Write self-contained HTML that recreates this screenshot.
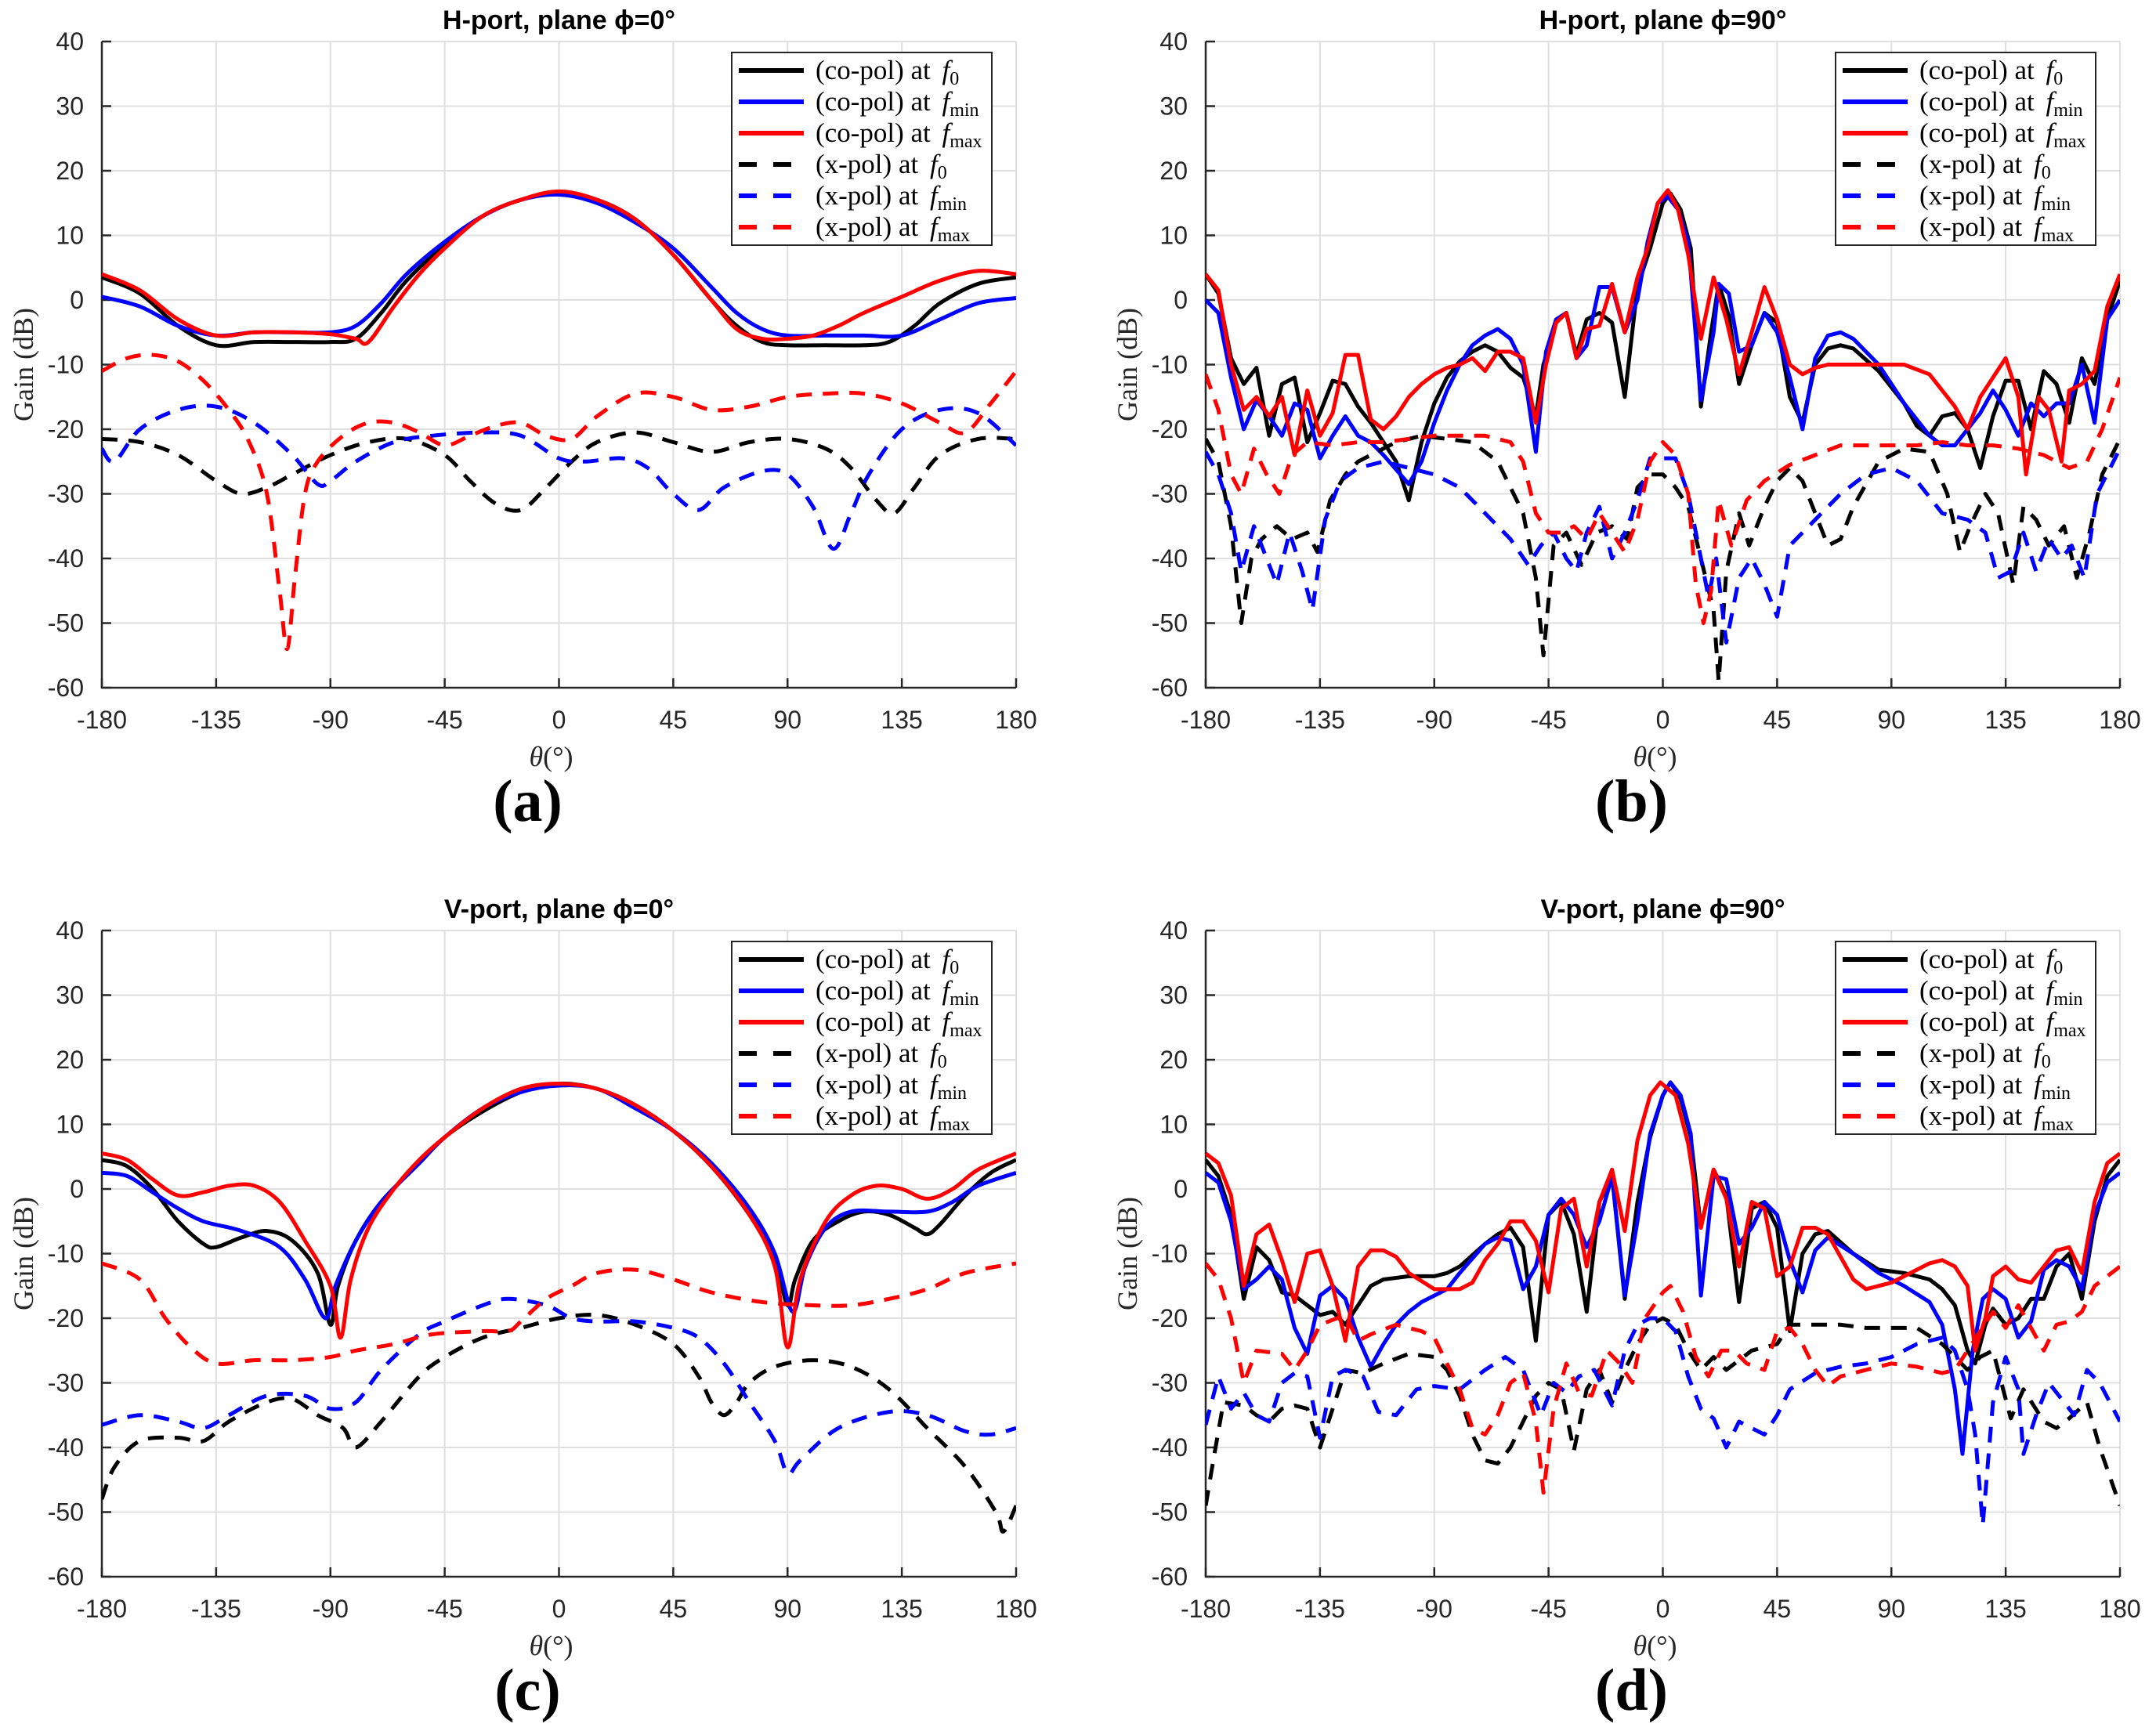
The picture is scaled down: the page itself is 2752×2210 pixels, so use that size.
<!DOCTYPE html>
<html><head><meta charset="utf-8">
<style>
html,body{margin:0;padding:0;background:#fff;}
svg{display:block;}
</style></head>
<body>
<svg id="fig" width="2752" height="2210" viewBox="0 0 2752 2210" xmlns="http://www.w3.org/2000/svg"></svg>
<script>
// ---------- data (theta in degrees, gain in dB) ----------
const xTicks = [-180,-135,-90,-45,0,45,90,135,180];
const yTicks = [40,30,20,10,0,-10,-20,-30,-40,-50,-60];
const titles = ["H-port, plane \u03d5=0\u00b0","H-port, plane \u03d5=90\u00b0","V-port, plane \u03d5=0\u00b0","V-port, plane \u03d5=90\u00b0"];
const panelLetters = ["(a)","(b)","(c)","(d)"];

// Panel a
const aCoF0 = [[-180,3.5],[-165,1],[-150,-4],[-135,-7],[-120,-6.5],[-105,-6.5],[-90,-6.5],[-80,-6],[-70,-2],[-60,3],[-45,8.5],[-30,13],[-15,15.5],[0,16.5],[15,15.5],[30,12.5],[45,7],[60,0],[70,-4],[80,-6.5],[90,-7],[105,-7],[120,-7],[130,-6.5],[140,-4],[150,-0.5],[165,2.5],[180,3.5]];
const aCoFmin = [[-180,0.5],[-165,-1],[-150,-4],[-135,-5.5],[-120,-5],[-105,-5],[-90,-5],[-80,-4],[-70,-0.5],[-60,4],[-45,9],[-30,13],[-15,15.5],[0,16.3],[15,15],[30,12],[45,8],[60,2],[70,-2],[80,-4.5],[90,-5.5],[105,-5.5],[120,-5.5],[135,-5.5],[150,-3],[165,-0.5],[180,0.3]];
const aCoFmax = [[-180,4],[-165,1.5],[-150,-3],[-135,-5.5],[-120,-5],[-105,-5],[-90,-5.3],[-80,-6],[-75,-6.5],[-65,-1],[-55,4],[-45,8],[-30,13],[-15,15.5],[0,16.8],[15,15.5],[30,12.5],[45,7],[60,0],[70,-4.5],[80,-6],[90,-6],[100,-5.5],[110,-4],[120,-2],[135,0.5],[150,3],[165,4.5],[180,4]];
const aXF0 = [[-180,-21.5],[-165,-22],[-150,-24],[-135,-28],[-125,-30],[-115,-29],[-105,-27],[-90,-24],[-75,-22],[-60,-21.5],[-45,-24],[-35,-28],[-25,-31.5],[-15,-32.5],[-5,-29],[5,-25],[15,-22],[30,-20.5],[45,-22],[60,-23.5],[75,-22],[90,-21.5],[105,-23],[115,-26],[125,-31],[132,-33],[140,-29],[150,-24],[165,-21.5],[180,-21.5]];
const aXFmin = [[-180,-23],[-175,-25],[-165,-20],[-150,-17],[-135,-16.5],[-120,-19],[-105,-24],[-95,-28.5],[-90,-28],[-80,-25],[-65,-22],[-50,-21],[-30,-20.5],[-15,-21],[0,-24.5],[10,-25],[25,-24.5],[35,-26],[45,-30],[55,-32.5],[65,-29],[80,-26.5],[90,-27],[100,-32],[108,-38.5],[115,-33],[122,-27],[135,-20],[150,-17],[165,-17.5],[180,-22.5]];
const aXFmax = [[-180,-11],[-170,-9],[-160,-8.5],[-150,-9.5],[-140,-12.5],[-130,-17],[-122,-22],[-115,-30],[-110,-45],[-107,-54],[-104,-43],[-100,-30],[-95,-25],[-85,-21],[-75,-19],[-65,-19],[-55,-20.5],[-45,-22.5],[-35,-21],[-25,-19.5],[-15,-19],[-5,-21],[5,-21.5],[15,-18],[30,-14.5],[45,-15],[60,-17],[75,-16.5],[90,-15],[105,-14.5],[120,-14.5],[135,-16],[150,-19],[160,-20.5],[170,-16],[180,-11]];

// Panel b
const bCoF0 = [[-180,4],[-175,1],[-170,-9],[-165,-13],[-160,-10.5],[-155,-21],[-150,-13],[-145,-12],[-140,-22],[-135,-17.5],[-130,-12.5],[-125,-13],[-120,-16.5],[-115,-19],[-110,-22],[-105,-25],[-100,-31],[-95,-22],[-90,-16],[-85,-12],[-80,-9.5],[-75,-8],[-70,-7],[-65,-8],[-60,-10.5],[-55,-12],[-50,-18],[-47,-10],[-42,-3.5],[-38,-2],[-34,-8.5],[-30,-3],[-25,-2],[-20,-3.5],[-15,-15],[-10,2],[-5,8],[0,15],[3,16.5],[7,14],[11,8],[15,-16.5],[19,-5],[22,2.5],[26,-2.5],[30,-13],[35,-7],[40,-2],[45,-3.5],[50,-15],[55,-19],[60,-10],[65,-7.5],[70,-7],[75,-7.5],[85,-11],[95,-16],[100,-19.5],[105,-21],[110,-18],[115,-17.5],[120,-20],[125,-26],[130,-18],[135,-12.5],[140,-12.5],[145,-20],[150,-11],[155,-13],[160,-19],[165,-9],[170,-13],[175,-3],[180,3]];
const bCoFmin = [[-180,0],[-175,-2],[-170,-12],[-165,-20],[-160,-15.5],[-155,-18],[-150,-21],[-145,-16],[-140,-17],[-135,-24.5],[-130,-21],[-125,-18],[-120,-21],[-115,-22],[-110,-24],[-100,-28.5],[-95,-25],[-90,-19],[-85,-14],[-80,-10],[-75,-7],[-70,-5.5],[-65,-4.5],[-60,-6],[-55,-10],[-50,-23.5],[-46,-8],[-42,-3],[-38,-2],[-34,-9],[-30,-7],[-25,2],[-20,2],[-15,-5],[-10,0],[-6,9],[-2,15],[2,16],[6,14],[10,9],[15,-15.5],[20,-5],[22,2.5],[26,1],[30,-8],[35,-7],[40,-2],[45,-5],[50,-12],[55,-20],[60,-9],[65,-5.5],[70,-5],[75,-6],[85,-10],[95,-16],[105,-21],[110,-22.5],[115,-22.5],[120,-20],[125,-17.5],[130,-14],[135,-17],[140,-21],[145,-16],[150,-18],[155,-16],[160,-16],[165,-10],[170,-19],[175,-3],[180,0]];
const bCoFmax = [[-180,4],[-175,1.5],[-170,-10],[-165,-17],[-160,-15],[-155,-18],[-150,-15],[-145,-24],[-140,-14],[-135,-21],[-130,-17.5],[-125,-8.5],[-120,-8.5],[-115,-18.5],[-110,-20],[-105,-18],[-100,-15],[-95,-13],[-90,-11.5],[-85,-10.5],[-80,-10],[-75,-9],[-70,-11],[-65,-8],[-60,-8],[-55,-9],[-50,-19],[-46,-10],[-42,-3.5],[-38,-2],[-34,-9],[-30,-4.5],[-25,-4],[-20,2.5],[-15,-5],[-10,3.5],[-6,8],[-2,15],[2,17],[6,14],[10,7],[15,-6],[20,3.5],[25,-3],[30,-11.5],[35,-5],[40,2],[45,-3],[50,-10],[55,-11.5],[60,-10.5],[65,-10],[75,-10],[85,-10],[95,-10],[105,-11.5],[115,-16.5],[120,-20],[125,-15],[130,-12],[135,-9],[140,-15],[143,-27],[148,-15],[152,-17],[157,-25],[160,-14],[165,-13],[170,-11],[175,-1],[180,4]];
const bXF0 = [[-180,-21.5],[-175,-25],[-170,-35],[-166,-50],[-162,-40],[-158,-37],[-152,-35],[-146,-37],[-140,-36],[-136,-39],[-131,-31],[-125,-27],[-120,-25],[-115,-24],[-105,-22],[-95,-21],[-85,-21.5],[-75,-22],[-65,-25],[-55,-33],[-50,-43],[-47,-55],[-43,-38],[-38,-36],[-32,-41],[-26,-36],[-20,-35],[-14,-37],[-10,-29],[-5,-27],[0,-27],[5,-29],[10,-32],[15,-40],[20,-48],[22,-59],[25,-42],[30,-33],[34,-38],[40,-32],[45,-28],[50,-26],[55,-28],[60,-33],[65,-38],[70,-37],[75,-32],[85,-25],[95,-23],[105,-23.5],[112,-30],[117,-39],[121,-35],[127,-30],[132,-33],[138,-44],[142,-32],[147,-34],[152,-38],[158,-35],[163,-43],[168,-36],[173,-27],[180,-21.5]];
const bXFmin = [[-180,-23.5],[-175,-27],[-170,-33],[-166,-42],[-161,-35],[-156,-40],[-152,-44],[-147,-36],[-142,-42],[-138,-48],[-133,-34],[-127,-28],[-120,-26],[-110,-25],[-100,-26],[-90,-27],[-80,-29],[-70,-33],[-60,-37],[-53,-41],[-48,-38],[-43,-36],[-38,-40],[-34,-42],[-30,-36],[-25,-32],[-20,-40],[-15,-36],[-10,-31],[-5,-24.5],[0,-24.5],[5,-24.5],[10,-30],[14,-38],[18,-46],[21,-40],[25,-53],[30,-43],[35,-40],[40,-44],[45,-49],[50,-38],[60,-34],[70,-30],[80,-27],[90,-26],[100,-28],[110,-33],[120,-34],[127,-36],[132,-43],[137,-42],[142,-36],[147,-42],[152,-37],[157,-40],[161,-38],[166,-43],[171,-30],[180,-23]];
const bXFmax = [[-180,-11.5],[-175,-17],[-170,-27],[-166,-30],[-161,-23],[-156,-27],[-151,-30],[-146,-24],[-140,-22],[-130,-22.5],[-120,-22],[-110,-22],[-100,-21.5],[-90,-21],[-80,-21],[-70,-21],[-60,-22],[-55,-25],[-50,-33],[-45,-36],[-40,-36],[-35,-35],[-30,-37],[-25,-33],[-20,-36],[-15,-39],[-10,-34],[-5,-25],[0,-22],[5,-24],[10,-30],[13,-44],[16,-50],[19,-45],[22,-31],[27,-38],[33,-31],[40,-28],[50,-25.5],[60,-24],[70,-22.5],[80,-22.5],[90,-22.5],[100,-22.5],[110,-22],[120,-22.5],[130,-22.5],[140,-23],[150,-24],[160,-26],[167,-25],[173,-20],[180,-12]];

// Panel c
const cCoF0 = [[-180,4.5],[-170,3.5],[-160,0],[-150,-5],[-140,-8.5],[-135,-9],[-125,-7.5],[-115,-6.5],[-105,-8],[-95,-13],[-90,-21],[-87,-15],[-80,-8],[-70,-2],[-55,4],[-45,8],[-30,12],[-15,15],[0,16.3],[15,15.5],[30,13],[45,9],[60,3.5],[75,-4],[85,-11],[90,-18],[93,-14],[100,-8],[110,-5],[120,-3.5],[130,-4],[140,-6],[145,-7],[150,-5.5],[160,-1],[170,2.5],[180,4.5]];
const cCoFmin = [[-180,2.5],[-170,2],[-160,-0.5],[-150,-3],[-140,-5],[-125,-6.5],[-110,-9],[-100,-14],[-92,-20],[-88,-15],[-80,-8],[-70,-2],[-55,4],[-45,8],[-30,12.5],[-15,15],[0,16],[15,15.5],[30,12.5],[45,9],[60,4],[75,-3],[85,-10],[92,-19],[97,-12],[105,-6],[115,-3.5],[130,-3.5],[145,-3.5],[155,-2],[165,0.5],[180,2.5]];
const cCoFmax = [[-180,5.5],[-170,4.5],[-160,1.5],[-150,-1],[-140,-0.5],[-130,0.5],[-120,0.5],[-110,-2],[-100,-8],[-90,-15],[-86,-23],[-82,-14],[-75,-6],[-65,0],[-55,4.5],[-45,8],[-30,12.5],[-15,15.5],[0,16.3],[15,15.5],[30,13],[45,9],[60,3.5],[75,-4],[85,-12],[90,-24.5],[95,-14],[105,-5],[115,-1],[125,0.5],[135,0],[145,-1.5],[155,0],[165,3],[180,5.5]];
const cXF0 = [[-180,-48],[-175,-43],[-165,-39],[-150,-38.5],[-140,-39],[-130,-36],[-115,-33],[-105,-32.5],[-95,-35],[-85,-37],[-80,-40],[-70,-36],[-55,-29],[-45,-26],[-30,-23],[-15,-21.5],[0,-20],[15,-19.5],[30,-21],[45,-24],[55,-29],[60,-33],[65,-35],[70,-33],[75,-30],[85,-27.5],[100,-26.5],[115,-27.5],[130,-31],[145,-37],[160,-43],[172,-50],[175,-53],[180,-49]];
const cXFmin = [[-180,-36.5],[-165,-35],[-150,-36],[-140,-37],[-130,-35],[-115,-32],[-100,-32],[-90,-34],[-80,-33],[-70,-28],[-55,-22.5],[-45,-20.5],[-30,-18],[-20,-17],[-5,-18],[5,-20],[15,-20.5],[30,-20.5],[45,-21.5],[55,-23],[65,-27],[75,-33],[85,-39],[90,-44],[95,-42],[110,-37],[130,-34.5],[145,-35],[160,-37.5],[170,-38],[180,-37]];
const cXFmax = [[-180,-11.5],[-165,-14],[-155,-20],[-145,-24.5],[-135,-27],[-120,-26.5],[-105,-26.5],[-90,-26],[-80,-25],[-65,-24],[-50,-22.5],[-30,-22],[-20,-22],[-15,-20.5],[-5,-17],[5,-15],[15,-13],[30,-12.5],[45,-14],[60,-16],[80,-17.5],[100,-18],[115,-18],[130,-17],[145,-15.5],[160,-13],[180,-11.5]];

// Panel d
const dCoF0 = [[-180,4.5],[-175,2],[-170,-4],[-165,-17],[-160,-9],[-155,-11],[-150,-16],[-145,-16.5],[-140,-18],[-135,-19.5],[-130,-19],[-125,-21],[-120,-18],[-115,-15],[-110,-14],[-100,-13.5],[-90,-13.5],[-85,-13],[-80,-12],[-70,-8.5],[-65,-7],[-60,-6],[-55,-9],[-50,-23.5],[-45,-4],[-40,-2],[-35,-7],[-30,-19],[-25,-2],[-20,2],[-15,-17],[-10,-2],[-5,8],[0,14.5],[3,16.5],[7,14],[11,8],[15,-6],[20,3],[25,-1],[30,-17.5],[35,-3],[40,-2],[45,-6],[50,-22],[55,-10],[60,-7],[65,-6.5],[75,-10],[85,-12.5],[95,-13],[105,-14],[110,-15.5],[115,-18],[120,-25],[123,-27],[127,-21],[130,-18.5],[135,-21],[140,-20],[145,-17],[150,-17],[155,-12],[160,-10],[165,-17],[170,-5],[175,2],[180,4.5]];
const dCoFmin = [[-180,2.5],[-175,1],[-170,-5],[-165,-15.5],[-160,-14],[-155,-12],[-150,-14],[-145,-21.5],[-140,-25.5],[-135,-16.5],[-130,-15],[-125,-17],[-120,-23],[-115,-27.5],[-110,-24],[-105,-21],[-100,-19],[-95,-17.5],[-85,-15.5],[-80,-13],[-70,-8.5],[-65,-7.5],[-60,-8],[-55,-15.5],[-50,-12],[-45,-4],[-40,-1.5],[-35,-4],[-30,-9],[-25,-5],[-20,2],[-15,-16.5],[-10,-5],[-5,8.5],[0,14.5],[3,16.5],[7,14.5],[11,8.5],[15,-16.5],[20,2],[25,1.5],[30,-8.5],[35,-6],[40,-2],[45,-4],[50,-11],[55,-16],[60,-9.5],[65,-7.5],[75,-10],[85,-13],[95,-15],[105,-17.5],[110,-21],[115,-31],[118,-41],[122,-25],[126,-17],[130,-15.5],[135,-17],[140,-23],[145,-20.5],[150,-12.5],[155,-11],[160,-12],[165,-15.5],[170,-4],[175,1],[180,2.5]];
const dCoFmax = [[-180,5.5],[-175,4],[-170,-1],[-165,-15],[-160,-7],[-155,-5.5],[-150,-11],[-145,-17.5],[-140,-10],[-135,-9.5],[-130,-15],[-125,-23.5],[-120,-12],[-115,-9.5],[-110,-9.5],[-105,-10.5],[-100,-13],[-90,-15.5],[-80,-15.5],[-75,-14.5],[-70,-11],[-65,-8.5],[-60,-5],[-55,-5],[-50,-8],[-45,-16],[-40,-3],[-35,-1.5],[-30,-12],[-25,-2],[-20,3],[-15,-6.5],[-10,7.5],[-5,14.5],[-1,16.5],[5,14.5],[10,7],[15,-6],[20,3],[25,-1.5],[30,-12],[35,-2],[40,-3],[45,-13.5],[50,-12],[55,-6],[60,-6],[65,-7],[75,-14],[80,-15.5],[90,-14.5],[100,-12.5],[105,-11.5],[110,-11],[115,-12],[120,-15],[123,-25],[127,-20],[130,-13.5],[135,-12],[140,-14],[145,-14.5],[150,-12],[155,-9.5],[160,-9],[165,-13],[170,-2],[175,4],[180,5.5]];
const dXF0 = [[-180,-49],[-177,-42],[-173,-33],[-165,-33.5],[-160,-35],[-155,-36],[-150,-34],[-145,-33.5],[-140,-34],[-135,-40],[-130,-34],[-125,-28],[-118,-28.5],[-110,-27],[-100,-25.5],[-90,-26],[-85,-28],[-80,-32],[-75,-38],[-70,-42],[-65,-42.5],[-60,-40],[-55,-36],[-50,-32],[-45,-30],[-40,-31],[-35,-40.5],[-30,-31],[-25,-28],[-20,-33],[-15,-28],[-10,-24],[-5,-21],[0,-20],[5,-21],[10,-25],[15,-28],[20,-26],[25,-28],[30,-26.5],[35,-25],[45,-24],[50,-21],[60,-21],[70,-21],[80,-21.5],[90,-21.5],[100,-21.5],[110,-24],[115,-26],[120,-28],[125,-26],[130,-25],[137,-35.5],[142,-31],[150,-36],[155,-37],[160,-35.5],[167,-33],[172,-40],[180,-49]];
const dXFmin = [[-180,-36.5],[-175,-29],[-170,-34],[-165,-31.5],[-160,-35],[-155,-36],[-150,-30],[-145,-28.5],[-140,-29],[-135,-38.5],[-130,-29],[-125,-28],[-118,-29],[-112,-34.5],[-105,-35],[-97,-31],[-90,-30.5],[-80,-31],[-70,-28],[-62,-26],[-55,-28],[-48,-35],[-43,-30],[-38,-31.5],[-33,-29],[-27,-28],[-20,-33.5],[-15,-25],[-10,-21],[-5,-20],[0,-20],[5,-22],[10,-29],[15,-34],[20,-35.5],[25,-40],[30,-36],[35,-37],[40,-38],[45,-35],[50,-31],[60,-28.5],[70,-27.5],[80,-27],[90,-26],[100,-24],[110,-23],[115,-25],[120,-31],[123,-38],[126,-52],[130,-33],[135,-26],[140,-31],[142,-41],[147,-35],[152,-30],[157,-32.5],[162,-35],[167,-28],[172,-30],[180,-36]];
const dXFmax = [[-180,-11.5],[-175,-14],[-170,-20],[-165,-30],[-160,-25],[-150,-25.5],[-145,-28],[-140,-25],[-135,-21],[-125,-19.5],[-120,-23.5],[-115,-22.5],[-105,-21],[-95,-22],[-90,-23],[-85,-27],[-80,-31],[-75,-37],[-70,-38],[-65,-35],[-60,-30],[-55,-28.5],[-50,-36],[-47,-47],[-43,-34],[-38,-27],[-33,-31.5],[-28,-32],[-22,-25],[-17,-27],[-12,-30],[-7,-20],[0,-16],[3,-15],[8,-19],[13,-26],[18,-29],[23,-25],[28,-25],[33,-27],[40,-28],[45,-22],[50,-21.5],[55,-24],[60,-28],[65,-30.5],[70,-29],[80,-28],[90,-27],[100,-27.5],[110,-28.5],[115,-28],[120,-25],[125,-22],[130,-19],[135,-21.5],[140,-18],[145,-21.5],[150,-25],[155,-21],[160,-20.5],[165,-19],[170,-15],[180,-12]];

// ---------- drawing ----------
const NS = "http://www.w3.org/2000/svg";
const svg = document.getElementById("fig");
function mk(tag, attrs, parent){
  const e = document.createElementNS(NS, tag);
  for (const k in attrs) e.setAttribute(k, attrs[k]);
  (parent||svg).appendChild(e);
  return e;
}
const PW = 1167, PH = 825;
const panels = [
  {L:130, T:53, series:[aCoF0,aCoFmin,aCoFmax,aXF0,aXFmin,aXFmax], smooth:true},
  {L:1539, T:53, series:[bCoF0,bCoFmin,bCoFmax,bXF0,bXFmin,bXFmax], smooth:false},
  {L:130, T:1188, series:[cCoF0,cCoFmin,cCoFmax,cXF0,cXFmin,cXFmax], smooth:true},
  {L:1539, T:1188, series:[dCoF0,dCoFmin,dCoFmax,dXF0,dXFmin,dXFmax], smooth:false}
];
const colors = ["#000000","#0000ff","#ff0000","#000000","#0000ff","#ff0000"];
const legLabels = [["(co-pol) at ","0"],["(co-pol) at ","min"],["(co-pol) at ","max"],["(x-pol) at ","0"],["(x-pol) at ","min"],["(x-pol) at ","max"]];
const seriesNames = ["co-pol-f0","co-pol-fmin","co-pol-fmax","x-pol-f0","x-pol-fmin","x-pol-fmax"];

function smoothPath(pts){
  let d = "M"+pts[0][0].toFixed(1)+","+pts[0][1].toFixed(1);
  for (let i=0;i<pts.length-1;i++){
    const p0 = pts[Math.max(0,i-1)], p1 = pts[i], p2 = pts[i+1], p3 = pts[Math.min(pts.length-1,i+2)];
    const c1x = p1[0]+(p2[0]-p0[0])/6, c1y = p1[1]+(p2[1]-p0[1])/6;
    const c2x = p2[0]-(p3[0]-p1[0])/6, c2y = p2[1]-(p3[1]-p1[1])/6;
    d += " C"+c1x.toFixed(1)+","+c1y.toFixed(1)+" "+c2x.toFixed(1)+","+c2y.toFixed(1)+" "+p2[0].toFixed(1)+","+p2[1].toFixed(1);
  }
  return d;
}

panels.forEach((p, pi) => {
  const g = mk("g", {});
  
  
  const xS = v => p.L + (v + 180) / 360 * PW;
  const yS = v => p.T + (40 - v) / 100 * PH;
  xTicks.forEach(t => {
    const l = mk("line", {x1:xS(t), x2:xS(t), y1:p.T, y2:p.T+PH, stroke:"#dfdfdf", "stroke-width":2}, g);
    
    
  });
  yTicks.forEach(t => {
    const l = mk("line", {x1:p.L, x2:p.L+PW, y1:yS(t), y2:yS(t), stroke:"#dfdfdf", "stroke-width":2}, g);
    
    
  });
  const ax = mk("path", {d:`M${p.L},${p.T} V${p.T+PH} H${p.L+PW}`, fill:"none", stroke:"#262626", "stroke-width":2.5}, g);
  
  
  xTicks.forEach(t => {
    const tk = mk("line", {x1:xS(t), x2:xS(t), y1:p.T+PH, y2:p.T+PH-12, stroke:"#262626", "stroke-width":2.5}, g);
    
    
    const tx = mk("text", {x:xS(t), y:p.T+PH+52, "text-anchor":"middle", "font-family":"Liberation Sans, sans-serif", "font-size":32, fill:"#262626"}, g);
    tx.textContent = t;
    
    
  });
  yTicks.forEach(t => {
    const tk = mk("line", {x1:p.L, x2:p.L+12, y1:yS(t), y2:yS(t), stroke:"#262626", "stroke-width":2.5}, g);
    
    
    const tx = mk("text", {x:p.L-23, y:yS(t)+11, "text-anchor":"end", "font-family":"Liberation Sans, sans-serif", "font-size":32, fill:"#262626"}, g);
    tx.textContent = t;
    
    
  });
  const ti = mk("text", {x:p.L+PW/2, y:p.T-16, "text-anchor":"middle", "font-family":"Liberation Sans, sans-serif", "font-size":34, "font-weight":"bold", fill:"#000"}, g);
  ti.textContent = titles[pi];
  
  
  const yl = mk("text", {x:0, y:0, transform:`translate(${p.L-88},${p.T+PH/2}) rotate(-90)`, "text-anchor":"middle", "font-family":"Liberation Serif, serif", "font-size":36, fill:"#262626"}, g);
  yl.textContent = "Gain (dB)";
  
  
  const xl = mk("text", {x:p.L+PW/2 - 10, y:p.T+PH+100, "text-anchor":"middle", "font-family":"Liberation Serif, serif", "font-size":36, fill:"#262626"}, g);
  xl.innerHTML = '<tspan font-style="italic">θ</tspan>(°)';
  
  
  const pl = mk("text", {x:p.L+PW/2 - 40, y:p.T+PH+170, "text-anchor":"middle", "font-family":"Liberation Serif, serif", "font-size":76, "font-weight":"bold", fill:"#000"}, g);
  pl.textContent = panelLetters[pi];
  
  
  const cp = mk("clipPath", {id:"clip"+pi}, g);
  mk("rect", {x:p.L, y:p.T-4, width:PW, height:PH+8}, cp);
  p.series.forEach((s, si) => {
    const pts = s.map(d => [xS(d[0]), yS(d[1])]);
    const d = p.smooth ? smoothPath(pts) : "M" + pts.map(q => q[0].toFixed(1)+","+q[1].toFixed(1)).join(" L");
    const attrs = {d:d, fill:"none", stroke:colors[si], "stroke-width":5, "stroke-linejoin":"round", "clip-path":`url(#clip${pi})`};
    if (si >= 3) attrs["stroke-dasharray"] = "20,14";
    const path = mk("path", attrs, g);
    
    
  });
  // legend
  const lw = 332, lh = 246, lx = p.L+PW-31-lw, ly = p.T+14;
  const lg = mk("g", {}, g);
  
  
  mk("rect", {x:lx, y:ly, width:lw, height:lh, fill:"#fff", stroke:"#262626", "stroke-width":2}, lg);
  legLabels.forEach((lab, i) => {
    const cy = ly + 23 + i*40;
    const ent = mk("g", {}, lg);
    
    
    const la = {x1:lx+9, x2:lx+92, y1:cy, y2:cy, stroke:colors[i], "stroke-width":6};
    if (i >= 3) { la["stroke-dasharray"] = "23,21"; la.x2 = lx+90; }
    mk("line", la, ent);
    const tx = mk("text", {x:lx+107, y:cy+11, "font-family":"Liberation Serif, serif", "font-size":35, fill:"#000"}, ent);
    tx.innerHTML = lab[0] + '<tspan font-style="italic" dx="6">f</tspan><tspan font-size="24" dy="7">' + lab[1] + '</tspan>';
  });
});
</script>
</body></html>
